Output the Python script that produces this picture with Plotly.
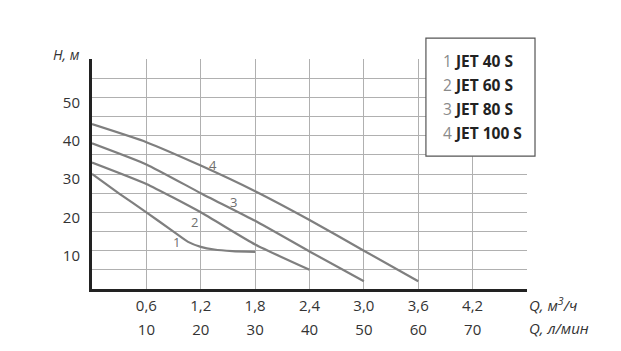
import plotly.graph_objects as go

# ---- data ----
q_m3h_ticks = [0.6, 1.2, 1.8, 2.4, 3.0, 3.6, 4.2]
q_lmin_ticks = [10, 20, 30, 40, 50, 60, 70]
h_ticks = [10, 20, 30, 40, 50]

models = ["JET 40 S", "JET 60 S", "JET 80 S", "JET 100 S"]
curve_ids = ["1", "2", "3", "4"]

q1 = [0.0, 0.3, 0.6, 0.88, 1.06, 1.2, 1.35, 1.55, 1.8]
h1 = [30.0, 24.9, 20.0, 15.3, 12.3, 11.0, 10.3, 9.9, 9.7]

q2 = [0.0, 0.6, 1.2, 1.8, 2.4]
h2 = [33.0, 27.4, 20.0, 11.6, 5.0]

q3 = [0.0, 0.6, 1.2, 1.8, 2.4, 3.0]
h3 = [38.0, 32.5, 25.0, 17.8, 9.8, 2.0]

q4 = [0.0, 0.6, 1.2, 1.8, 2.4, 3.0, 3.6]
h4 = [43.0, 38.3, 32.2, 25.5, 18.0, 10.0, 2.0]

# curve label anchor positions (Q, H)
label_q = [0.93, 1.13, 1.56, 1.34]
label_h = [12.2, 17.5, 22.6, 32.4]

# ---- styles ----
FONT = "Open Sans"
TXT = "#333333"
CURVE = "#7f7f7f"
GRID = "#b0b0b0"
AXIS = "#222222"

fig = go.Figure()
for qs, hs in [(q1, h1), (q2, h2), (q3, h3), (q4, h4)]:
    fig.add_trace(go.Scatter(x=qs, y=hs, mode="lines",
                             line=dict(color=CURVE, width=2.2, shape="spline", smoothing=0.5),
                             showlegend=False, hoverinfo="skip"))

# invisible trace for second x axis
fig.add_trace(go.Scatter(x=[0, 80], y=[None, None], xaxis="x2", yaxis="y",
                         mode="lines", showlegend=False, hoverinfo="skip"))

fig.update_layout(
    width=621, height=351,
    margin=dict(l=92, r=94.3, t=59, b=58.3),
    paper_bgcolor="white", plot_bgcolor="white",
    font=dict(family=FONT, size=15, color=TXT),
    xaxis=dict(range=[0, 4.8], tickvals=q_m3h_ticks,
               ticktext=[f"{v:.1f}".replace(".", ",") for v in q_m3h_ticks],
               showgrid=True, gridcolor=GRID, gridwidth=1.3,
               minor=dict(tick0=0, dtick=0.6, showgrid=True, gridcolor=GRID, gridwidth=1.3, ticks=""),
               zeroline=False, showline=True, linecolor=AXIS, linewidth=3,
               ticks="", ticklabelstandoff=1,
               tickfont=dict(size=15, color=TXT)),
    xaxis2=dict(range=[0, 80], overlaying="x", anchor="y", side="bottom",
                tickvals=q_lmin_ticks, ticktext=[str(v) for v in q_lmin_ticks],
                showgrid=False, zeroline=False, showline=False, ticks="",
                ticklabelstandoff=30, tickfont=dict(size=15, color=TXT)),
    yaxis=dict(range=[0, 60], tickvals=h_ticks, ticktext=[str(v) for v in h_ticks],
               showgrid=True, gridcolor=GRID, gridwidth=1.3,
               minor=dict(tick0=0, dtick=5, showgrid=True, gridcolor=GRID, gridwidth=1.3, ticks=""),
               zeroline=False, showline=True, linecolor=AXIS, linewidth=3,
               ticks="", ticklabelshift=5, ticklabelstandoff=6,
               tickfont=dict(size=15, color=TXT)),
)

annotations = []
# curve numbers
for cid, lq, lh in zip(curve_ids, label_q, label_h):
    annotations.append(dict(x=lq, y=lh, xref="x", yref="y", text=cid, showarrow=False,
                            font=dict(size=13, color="#6f6f6f", family=FONT)))
# axis titles
annotations.append(dict(x=1, y=0, xref="paper", yref="paper", xanchor="left", yanchor="middle",
                        yshift=-15, text="<i>Q, м<sup>3</sup>/ч</i>", showarrow=False,
                        font=dict(size=15, color=TXT, family=FONT)))
annotations.append(dict(x=1, y=0, xref="paper", yref="paper", xanchor="left", yanchor="middle",
                        yshift=-39, text="<i>Q, л/мин</i>", showarrow=False,
                        font=dict(size=15, color=TXT, family=FONT)))
annotations.append(dict(x=0, y=1, xref="paper", yref="paper", xanchor="right", yanchor="middle",
                        xshift=-10, yshift=5, text="<i>H, м</i>", showarrow=False,
                        font=dict(size=14, color=TXT, family=FONT)))

# legend box
fig.add_shape(type="rect", xref="paper", yref="paper",
              x0=(425.7 - 92) / 434.7, x1=(534.7 - 92) / 434.7,
              y0=(292.7 - 157.7) / 233.7, y1=(292.7 - 37.7) / 233.7,
              line=dict(color="#555555", width=1.2), fillcolor="white", layer="above")
for i, (cid, name) in enumerate(zip(curve_ids, models)):
    ypx = 61 + i * 24.5
    annotations.append(dict(x=(440.7 - 92) / 434.7, y=(292.7 - ypx) / 233.7,
                            xref="paper", yref="paper", xanchor="left", yanchor="middle",
                            text=f"<span style='color:#8a8a8a'>{cid}</span> <b>{name}</b>",
                            showarrow=False, font=dict(size=15.5, color="#222222", family=FONT)))

fig.update_layout(annotations=annotations)
fig.write_html("out.html")
